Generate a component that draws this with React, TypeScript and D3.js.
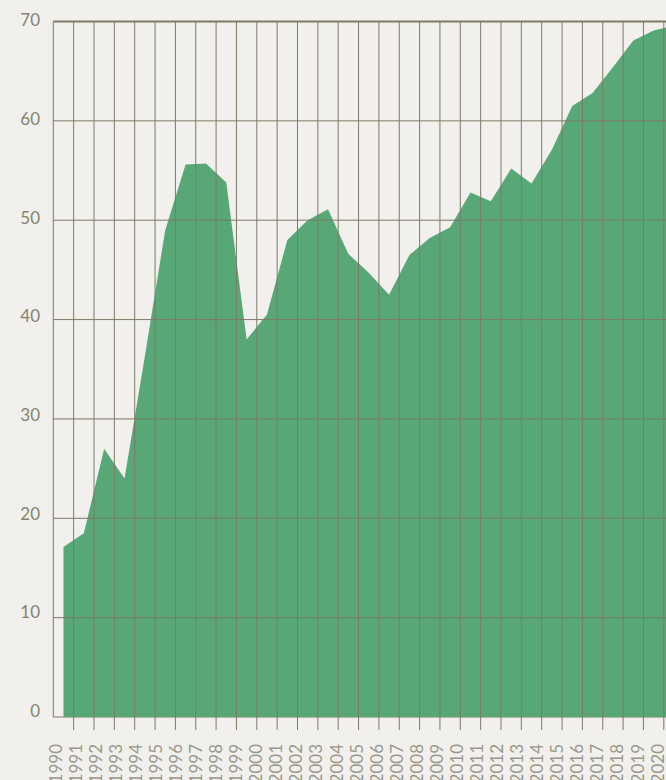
import React, { useEffect, useRef } from "react";
import * as d3 from "d3";

const years: number[] = d3.range(1990, 2021);

const values: number[] = [
  17.1, 18.5, 27.0, 24.0, 36.3, 49.0, 55.6, 55.7, 53.8, 38.0,
  40.5, 48.0, 50.0, 51.1, 46.6, 44.7, 42.5, 46.5, 48.2, 49.3,
  52.8, 51.9, 55.2, 53.7, 57.1, 61.5, 62.8, 65.4, 68.1, 69.1,
  69.6,
];

const yTicks: number[] = [0, 10, 20, 30, 40, 50, 60, 70];

const BG = "#f1f0ec";
const GRID = "#7c7a67";
const FILL = "#58a777";

export default function App() {
  const ref = useRef<SVGSVGElement | null>(null);

  useEffect(() => {
    const svg = d3.select(ref.current);
    svg.selectAll("*").remove();

    const left = 53.3;
    const top = 21.5;
    const bottom = 717;

    // band scale: ticks sit on band starts, the area on band centres
    const x = d3.scaleBand<number>()
      .domain(years)
      .range([left, left + years.length * 20.35])
      .padding(0);
    const bw = x.bandwidth();

    const y = d3.scaleLinear().domain([0, 70]).range([bottom, top]);

    // labels in the reference drift slightly from the grid
    const xLabel = d3.scalePoint<number>().domain(years).range([55.5, 657.5]);
    const yLabel = d3.scaleLinear().domain([0, 70]).range([711, 20]);

    const data = years.map((yr, i) => ({ year: yr, value: values[i] }));

    // baseline under the area
    svg.append("line")
      .attr("x1", left).attr("x2", 720)
      .attr("y1", bottom).attr("y2", bottom)
      .attr("stroke", GRID).attr("stroke-width", 1);

    const area = d3.area<{ year: number; value: number }>()
      .x(d => (x(d.year) as number) + bw / 2)
      .y0(y(0))
      .y1(d => y(d.value));

    svg.append("path")
      .datum(data)
      .attr("fill", FILL)
      .attr("d", area);

    // horizontal grid
    svg.append("g")
      .selectAll("line")
      .data(yTicks.filter(t => t > 0))
      .join("line")
      .attr("x1", left).attr("x2", 720)
      .attr("y1", d => y(d)).attr("y2", d => y(d))
      .attr("stroke", GRID)
      .attr("stroke-width", d => (d === 70 ? 2 : 1));

    // vertical grid + ticks
    svg.append("g")
      .selectAll("line")
      .data(years)
      .join("line")
      .attr("x1", d => x(d) as number).attr("x2", d => x(d) as number)
      .attr("y1", top)
      .attr("y2", (d, i) => (i === 0 ? bottom : bottom + 13))
      .attr("stroke", GRID)
      .attr("stroke-width", 1);

    svg.append("g")
      .selectAll("text")
      .data(yTicks)
      .join("text")
      .attr("x", 40)
      .attr("y", d => yLabel(d))
      .attr("dy", "0.36em")
      .attr("text-anchor", "end")
      .style("font-family", "Lato, sans-serif")
      .style("font-size", "17px")
      .attr("fill", "#858370")
      .text(d => d);

    svg.append("g")
      .selectAll("text")
      .data(years)
      .join("text")
      .attr("transform", d => `translate(${xLabel(d)},744) rotate(-90)`)
      .attr("dy", "0.36em")
      .attr("text-anchor", "end")
      .style("font-family", "Lato, sans-serif")
      .style("font-size", "17px")
      .attr("fill", "#9a988a")
      .text(d => d);
  }, []);

  return (
    <div
      style={{
        position: "fixed",
        left: 0,
        top: 0,
        width: 666,
        height: 780,
        overflow: "hidden",
        background: BG,
      }}
    >
      <svg ref={ref} width={720} height={820} style={{ display: "block" }} />
    </div>
  );
}
